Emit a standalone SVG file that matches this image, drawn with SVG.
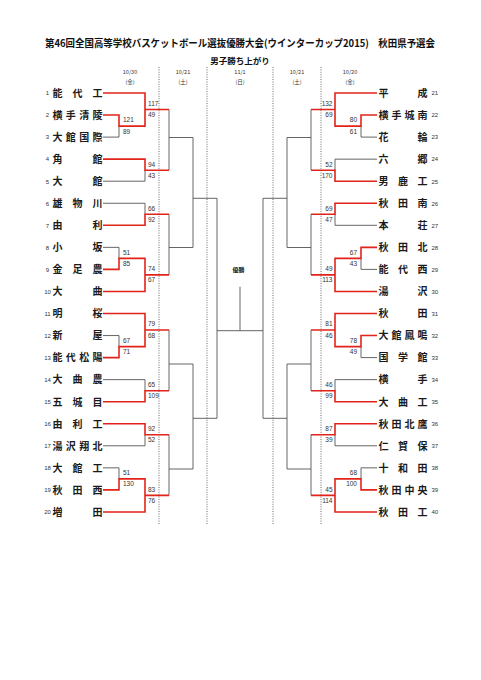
<svg xmlns="http://www.w3.org/2000/svg" width="481" height="680" viewBox="0 0 481 680">
<style>
.r{fill:none;stroke:#e2231a;stroke-width:1.6}
.g{fill:none;stroke:#555;stroke-width:0.9}
.d{stroke:#444;stroke-width:0.8;stroke-dasharray:1 1.4}
.nm{font-family:"Noto Sans CJK JP",sans-serif;font-size:10px;font-weight:bold;fill:#1a1a1a;text-anchor:middle}
.nl{font-family:"Liberation Sans",sans-serif;font-size:6px;fill:#333;text-anchor:middle}
.nr{font-family:"Liberation Sans",sans-serif;font-size:6px;fill:#333;text-anchor:start}
.sl{font-family:"Liberation Sans",sans-serif;font-size:6.5px;fill:#333;text-anchor:start}
.sr{font-family:"Liberation Sans",sans-serif;font-size:6.5px;fill:#333;text-anchor:end}
.hd{font-family:"Noto Sans CJK JP",sans-serif;font-size:5.5px;fill:#333;text-anchor:middle}
</style>
<rect width="481" height="680" fill="#fff"/>
<g id="title">
<text x="45" y="47.3" font-family="Noto Sans CJK JP,sans-serif" font-weight="bold" font-size="10.2" fill="#111" textLength="390" lengthAdjust="spacingAndGlyphs">第46回全国高等学校バスケットボール選抜優勝大会(ウインターカップ2015)　秋田県予選会</text>
<text x="240" y="63.8" font-family="Noto Sans CJK JP,sans-serif" font-weight="bold" font-size="8.5" fill="#111" text-anchor="middle">男子勝ち上がり</text>
</g>
<g id="headers">
<text class="hd" x="130" y="73.5">10/30</text>
<text class="hd" x="183" y="73.5">10/21</text>
<text class="hd" x="240" y="73.5">11/1</text>
<text class="hd" x="297" y="73.5">10/21</text>
<text class="hd" x="350" y="73.5">10/20</text>
<text class="hd" x="130" y="83.8">(金)</text>
<text class="hd" x="183" y="83.8">(土)</text>
<text class="hd" x="240" y="83.8">(日)</text>
<text class="hd" x="297" y="83.8">(土)</text>
<text class="hd" x="350" y="83.8">(金)</text>
<line class="d" x1="159" y1="67" x2="159" y2="524"/>
<line class="d" x1="207" y1="67" x2="207" y2="524"/>
<line class="d" x1="273" y1="67" x2="273" y2="524"/>
<line class="d" x1="321" y1="67" x2="321" y2="524"/>
<text x="238.5" y="272" font-family="Noto Sans CJK JP,sans-serif" font-weight="bold" font-size="6" fill="#111" text-anchor="middle">優勝</text>
</g>
<g id="connectors">
<path class="g" d="M103 137.1H119V126.1M103 181.2H145V170.2M103 203.25H145V214.3M103 247.35H119V258.4M103 335.55H119V346.6M103 379.65H145V390.7M103 445.8H145V434.8M103 467.85H119V478.9"/>
<path class="g" d="M169 109.5V170.2M169 137.5H193M169 214.3V274.9M169 247.5H193M193 137.5V247.5M193 198.3H217M169 330V390.7M169 364H193M169 434.8V495.4M169 469H193M193 364V469M193 418.3H217M217 198.3V418.3M217 330.7H263M240 286.7V330.7"/>
<path class="g" d="M377 137.1H361V126.1M377 159.15H335V170.2M377 225.3H335V214.3M377 269.4H361V258.4M377 357.6H361V346.6M377 379.65H335V390.7M377 445.8H335V434.8M377 467.85H361V478.9"/>
<path class="g" d="M311 109.5V170.2M311 137.5H287M311 214.3V274.9M311 247.5H287M287 137.5V247.5M287 198.3H263M311 330V390.7M311 364H287M311 434.8V495.4M311 469H287M287 364V469M287 418.3H263M263 198.3V418.3"/>
<path class="r" d="M103 93H145V109.5H169M103 115.05H119V126.1H145V109.5M103 159.15H145V170.2H169M103 225.3H145V214.3H169M103 269.4H119V258.4H145V274.9H169M103 291.45H145V274.9M103 313.5H145V330H169M103 357.6H119V346.6H145V330M103 401.7H145V390.7H169M103 423.75H145V434.8H169M103 489.9H119V478.9H145V495.4H169M103 511.95H145V495.4"/>
<path class="r" d="M377 93H335V109.5H311M377 115.05H361V126.1H335V109.5M377 181.2H335V170.2H311M377 203.25H335V214.3H311M377 247.35H361V258.4H335V274.9M377 291.45H335V274.9H311M377 313.5H335V330H311M377 335.55H361V346.6H335V330M377 401.7H335V390.7H311M377 423.75H335V434.8H311M377 489.9H361V478.9H335V495.4M377 511.95H335V495.4H311"/>
</g>
<g id="scores">
<text class="sl" x="123" y="122.4">121</text><text class="sl" x="123" y="133.6">89</text>
<text class="sl" x="123" y="254.7">51</text><text class="sl" x="123" y="265.9">85</text>
<text class="sl" x="123" y="342.9">67</text><text class="sl" x="123" y="354.1">71</text>
<text class="sl" x="123" y="475.2">51</text><text class="sl" x="123" y="486.4">130</text>
<text class="sl" x="148" y="105.8">117</text><text class="sl" x="148" y="117">49</text>
<text class="sl" x="148" y="166.5">94</text><text class="sl" x="148" y="177.7">43</text>
<text class="sl" x="148" y="210.6">66</text><text class="sl" x="148" y="221.8">92</text>
<text class="sl" x="148" y="271.2">74</text><text class="sl" x="148" y="282.4">67</text>
<text class="sl" x="148" y="326.3">79</text><text class="sl" x="148" y="337.5">68</text>
<text class="sl" x="148" y="387">65</text><text class="sl" x="148" y="398.2">109</text>
<text class="sl" x="148" y="431.1">92</text><text class="sl" x="148" y="442.3">52</text>
<text class="sl" x="148" y="491.7">83</text><text class="sl" x="148" y="502.9">76</text>
<text class="sr" x="357" y="122.4">80</text><text class="sr" x="357" y="133.6">61</text>
<text class="sr" x="357" y="254.7">67</text><text class="sr" x="357" y="265.9">43</text>
<text class="sr" x="357" y="342.9">78</text><text class="sr" x="357" y="354.1">49</text>
<text class="sr" x="357" y="475.2">68</text><text class="sr" x="357" y="486.4">100</text>
<text class="sr" x="332.5" y="105.8">132</text><text class="sr" x="332.5" y="117">69</text>
<text class="sr" x="332.5" y="166.5">52</text><text class="sr" x="332.5" y="177.7">170</text>
<text class="sr" x="332.5" y="210.6">69</text><text class="sr" x="332.5" y="221.8">47</text>
<text class="sr" x="332.5" y="271.2">49</text><text class="sr" x="332.5" y="282.4">113</text>
<text class="sr" x="332.5" y="326.3">81</text><text class="sr" x="332.5" y="337.5">46</text>
<text class="sr" x="332.5" y="387">46</text><text class="sr" x="332.5" y="398.2">99</text>
<text class="sr" x="332.5" y="431.1">87</text><text class="sr" x="332.5" y="442.3">39</text>
<text class="sr" x="332.5" y="491.7">45</text><text class="sr" x="332.5" y="502.9">114</text>
</g>
<g id="team-1"><text class="nl" x="47.5" y="95.3">1</text><text class="nm" x="57.5 77.5 97.5" y="96.8">能代工</text></g>
<g id="team-2"><text class="nl" x="47.5" y="117.35">2</text><text class="nm" x="57.5 70.83 84.17 97.5" y="118.85">横手清陵</text></g>
<g id="team-3"><text class="nl" x="47.5" y="139.4">3</text><text class="nm" x="57.5 70.83 84.17 97.5" y="140.9">大館国際</text></g>
<g id="team-4"><text class="nl" x="47.5" y="161.45">4</text><text class="nm" x="57.5 97.5" y="162.95">角館</text></g>
<g id="team-5"><text class="nl" x="47.5" y="183.5">5</text><text class="nm" x="57.5 97.5" y="185">大館</text></g>
<g id="team-6"><text class="nl" x="47.5" y="205.55">6</text><text class="nm" x="57.5 77.5 97.5" y="207.05">雄物川</text></g>
<g id="team-7"><text class="nl" x="47.5" y="227.6">7</text><text class="nm" x="57.5 97.5" y="229.1">由利</text></g>
<g id="team-8"><text class="nl" x="47.5" y="249.65">8</text><text class="nm" x="57.5 97.5" y="251.15">小坂</text></g>
<g id="team-9"><text class="nl" x="47.5" y="271.7">9</text><text class="nm" x="57.5 77.5 97.5" y="273.2">金足農</text></g>
<g id="team-10"><text class="nl" x="47.5" y="293.75">10</text><text class="nm" x="57.5 97.5" y="295.25">大曲</text></g>
<g id="team-11"><text class="nl" x="47.5" y="315.8">11</text><text class="nm" x="57.5 97.5" y="317.3">明桜</text></g>
<g id="team-12"><text class="nl" x="47.5" y="337.85">12</text><text class="nm" x="57.5 97.5" y="339.35">新屋</text></g>
<g id="team-13"><text class="nl" x="47.5" y="359.9">13</text><text class="nm" x="57.5 70.83 84.17 97.5" y="361.4">能代松陽</text></g>
<g id="team-14"><text class="nl" x="47.5" y="381.95">14</text><text class="nm" x="57.5 77.5 97.5" y="383.45">大曲農</text></g>
<g id="team-15"><text class="nl" x="47.5" y="404">15</text><text class="nm" x="57.5 77.5 97.5" y="405.5">五城目</text></g>
<g id="team-16"><text class="nl" x="47.5" y="426.05">16</text><text class="nm" x="57.5 77.5 97.5" y="427.55">由利工</text></g>
<g id="team-17"><text class="nl" x="47.5" y="448.1">17</text><text class="nm" x="57.5 70.83 84.17 97.5" y="449.6">湯沢翔北</text></g>
<g id="team-18"><text class="nl" x="47.5" y="470.15">18</text><text class="nm" x="57.5 77.5 97.5" y="471.65">大館工</text></g>
<g id="team-19"><text class="nl" x="47.5" y="492.2">19</text><text class="nm" x="57.5 77.5 97.5" y="493.7">秋田西</text></g>
<g id="team-20"><text class="nl" x="47.5" y="514.25">20</text><text class="nm" x="57.5 97.5" y="515.75">増田</text></g>
<g id="team-21"><text class="nr" x="431.5" y="95.3">21</text><text class="nm" x="383.5 422.5" y="96.8">平成</text></g>
<g id="team-22"><text class="nr" x="431.5" y="117.35">22</text><text class="nm" x="383.5 396.5 409.5 422.5" y="118.85">横手城南</text></g>
<g id="team-23"><text class="nr" x="431.5" y="139.4">23</text><text class="nm" x="383.5 422.5" y="140.9">花輪</text></g>
<g id="team-24"><text class="nr" x="431.5" y="161.45">24</text><text class="nm" x="383.5 422.5" y="162.95">六郷</text></g>
<g id="team-25"><text class="nr" x="431.5" y="183.5">25</text><text class="nm" x="383.5 403 422.5" y="185">男鹿工</text></g>
<g id="team-26"><text class="nr" x="431.5" y="205.55">26</text><text class="nm" x="383.5 403 422.5" y="207.05">秋田南</text></g>
<g id="team-27"><text class="nr" x="431.5" y="227.6">27</text><text class="nm" x="383.5 422.5" y="229.1">本荘</text></g>
<g id="team-28"><text class="nr" x="431.5" y="249.65">28</text><text class="nm" x="383.5 403 422.5" y="251.15">秋田北</text></g>
<g id="team-29"><text class="nr" x="431.5" y="271.7">29</text><text class="nm" x="383.5 403 422.5" y="273.2">能代西</text></g>
<g id="team-30"><text class="nr" x="431.5" y="293.75">30</text><text class="nm" x="383.5 422.5" y="295.25">湯沢</text></g>
<g id="team-31"><text class="nr" x="431.5" y="315.8">31</text><text class="nm" x="383.5 422.5" y="317.3">秋田</text></g>
<g id="team-32"><text class="nr" x="431.5" y="337.85">32</text><text class="nm" x="383.5 396.5 409.5 422.5" y="339.35">大館鳳鳴</text></g>
<g id="team-33"><text class="nr" x="431.5" y="359.9">33</text><text class="nm" x="383.5 403 422.5" y="361.4">国学館</text></g>
<g id="team-34"><text class="nr" x="431.5" y="381.95">34</text><text class="nm" x="383.5 422.5" y="383.45">横手</text></g>
<g id="team-35"><text class="nr" x="431.5" y="404">35</text><text class="nm" x="383.5 403 422.5" y="405.5">大曲工</text></g>
<g id="team-36"><text class="nr" x="431.5" y="426.05">36</text><text class="nm" x="383.5 396.5 409.5 422.5" y="427.55">秋田北鷹</text></g>
<g id="team-37"><text class="nr" x="431.5" y="448.1">37</text><text class="nm" x="383.5 403 422.5" y="449.6">仁賀保</text></g>
<g id="team-38"><text class="nr" x="431.5" y="470.15">38</text><text class="nm" x="383.5 403 422.5" y="471.65">十和田</text></g>
<g id="team-39"><text class="nr" x="431.5" y="492.2">39</text><text class="nm" x="383.5 396.5 409.5 422.5" y="493.7">秋田中央</text></g>
<g id="team-40"><text class="nr" x="431.5" y="514.25">40</text><text class="nm" x="383.5 403 422.5" y="515.75">秋田工</text></g>
</svg>
